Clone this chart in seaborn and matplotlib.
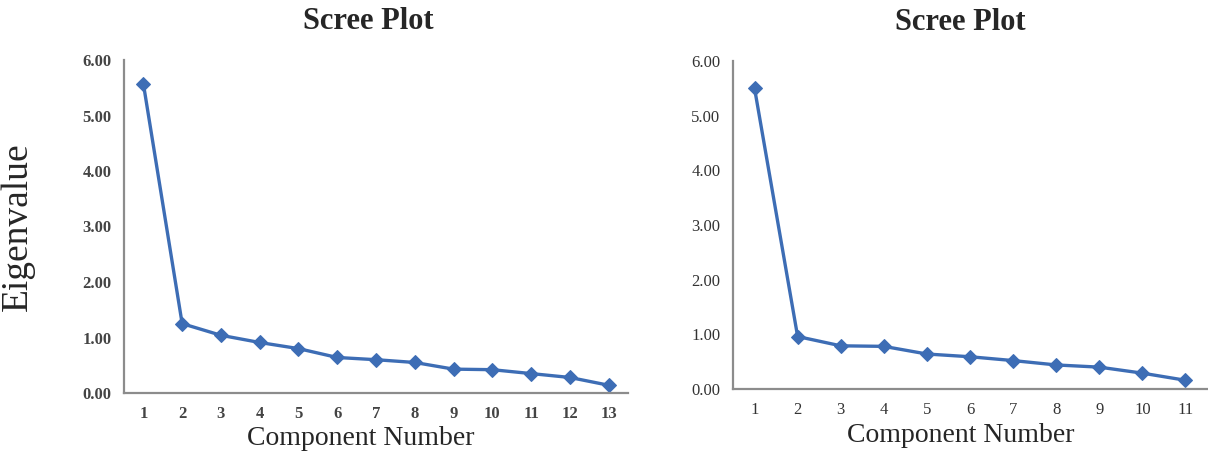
import numpy as np
import pandas as pd
import matplotlib
matplotlib.use("Agg")
import matplotlib.pyplot as plt
import seaborn as sns

# eigenvalues
left_components = list(range(1, 14))
left_eigen = [5.57, 1.25, 1.04, 0.91, 0.80, 0.64, 0.60, 0.55, 0.43, 0.42, 0.35, 0.28, 0.14]

right_components = list(range(1, 12))
right_eigen = [5.50, 0.96, 0.79, 0.78, 0.64, 0.59, 0.52, 0.44, 0.40, 0.29, 0.16]

y_ticks = [0, 1, 2, 3, 4, 5, 6]
title_text = "Scree Plot"
xlabel_text = "Component Number"
ylabel_text = "Eigenvalue"

sns.set_style("white")
plt.rcParams['font.family'] = ['Liberation Serif', 'DejaVu Serif']

line_color = "#3d6db5"
axis_color = "#8c8c8c"

fig = plt.figure(figsize=(12.08, 4.58), dpi=100)
W, H = 1208, 458


def make_axes(left, right, top, bottom):
    return fig.add_axes([left / W, 1 - bottom / H, (right - left) / W, (bottom - top) / H])


def scree(ax, comps, eig, tick_weight, tick_color, xl_coords, title_x):
    df = pd.DataFrame({"component": comps, "eigenvalue": eig})
    sns.lineplot(data=df, x="component", y="eigenvalue", ax=ax, color=line_color,
                 linewidth=2.4, marker="D", markersize=7, markeredgecolor=line_color)
    n = len(comps)
    ax.set_xlim(0.5, n + 0.5)
    ax.set_ylim(0, 6)
    ax.set_yticks(y_ticks)
    ax.set_yticklabels([f"{v:.2f}" for v in y_ticks], fontsize=12,
                       fontweight=tick_weight, color=tick_color)
    ax.set_xticks(comps)
    ax.set_xticklabels([str(c) for c in comps], fontsize=12,
                       fontweight=tick_weight, color=tick_color)
    ax.set_xticks(np.arange(0.5, n + 1, 1.0), minor=True)
    ax.tick_params(axis="x", which="major", length=0, pad=9)
    ax.tick_params(axis="x", which="minor", length=4, width=1, color=axis_color, direction="out")
    ax.tick_params(axis="y", which="major", length=4, width=1, color=axis_color,
                   direction="out", pad=5)
    for side in ["top", "right"]:
        ax.spines[side].set_visible(False)
    for side in ["left", "bottom"]:
        ax.spines[side].set_color(axis_color)
        ax.spines[side].set_linewidth(1.6)
    ax.set_ylabel("")
    ax.set_xlabel(xlabel_text, fontsize=20)
    ax.xaxis.set_label_coords(*xl_coords)
    ax.set_title(title_text, fontsize=22, fontweight="bold", pad=22, x=title_x)


ax1 = make_axes(124, 628, 60, 393)
scree(ax1, left_components, left_eigen, "bold", "#444444", (0.47, -0.10), 0.484)

ax2 = make_axes(733, 1207, 61, 389)
scree(ax2, right_components, right_eigen, "normal", "#333333", (0.48, -0.105), 0.479)

fig.text(18 / W, 1 - 227 / H, ylabel_text, rotation=90, ha="center", va="center", fontsize=27)

fig.savefig("out.png", dpi=100)
